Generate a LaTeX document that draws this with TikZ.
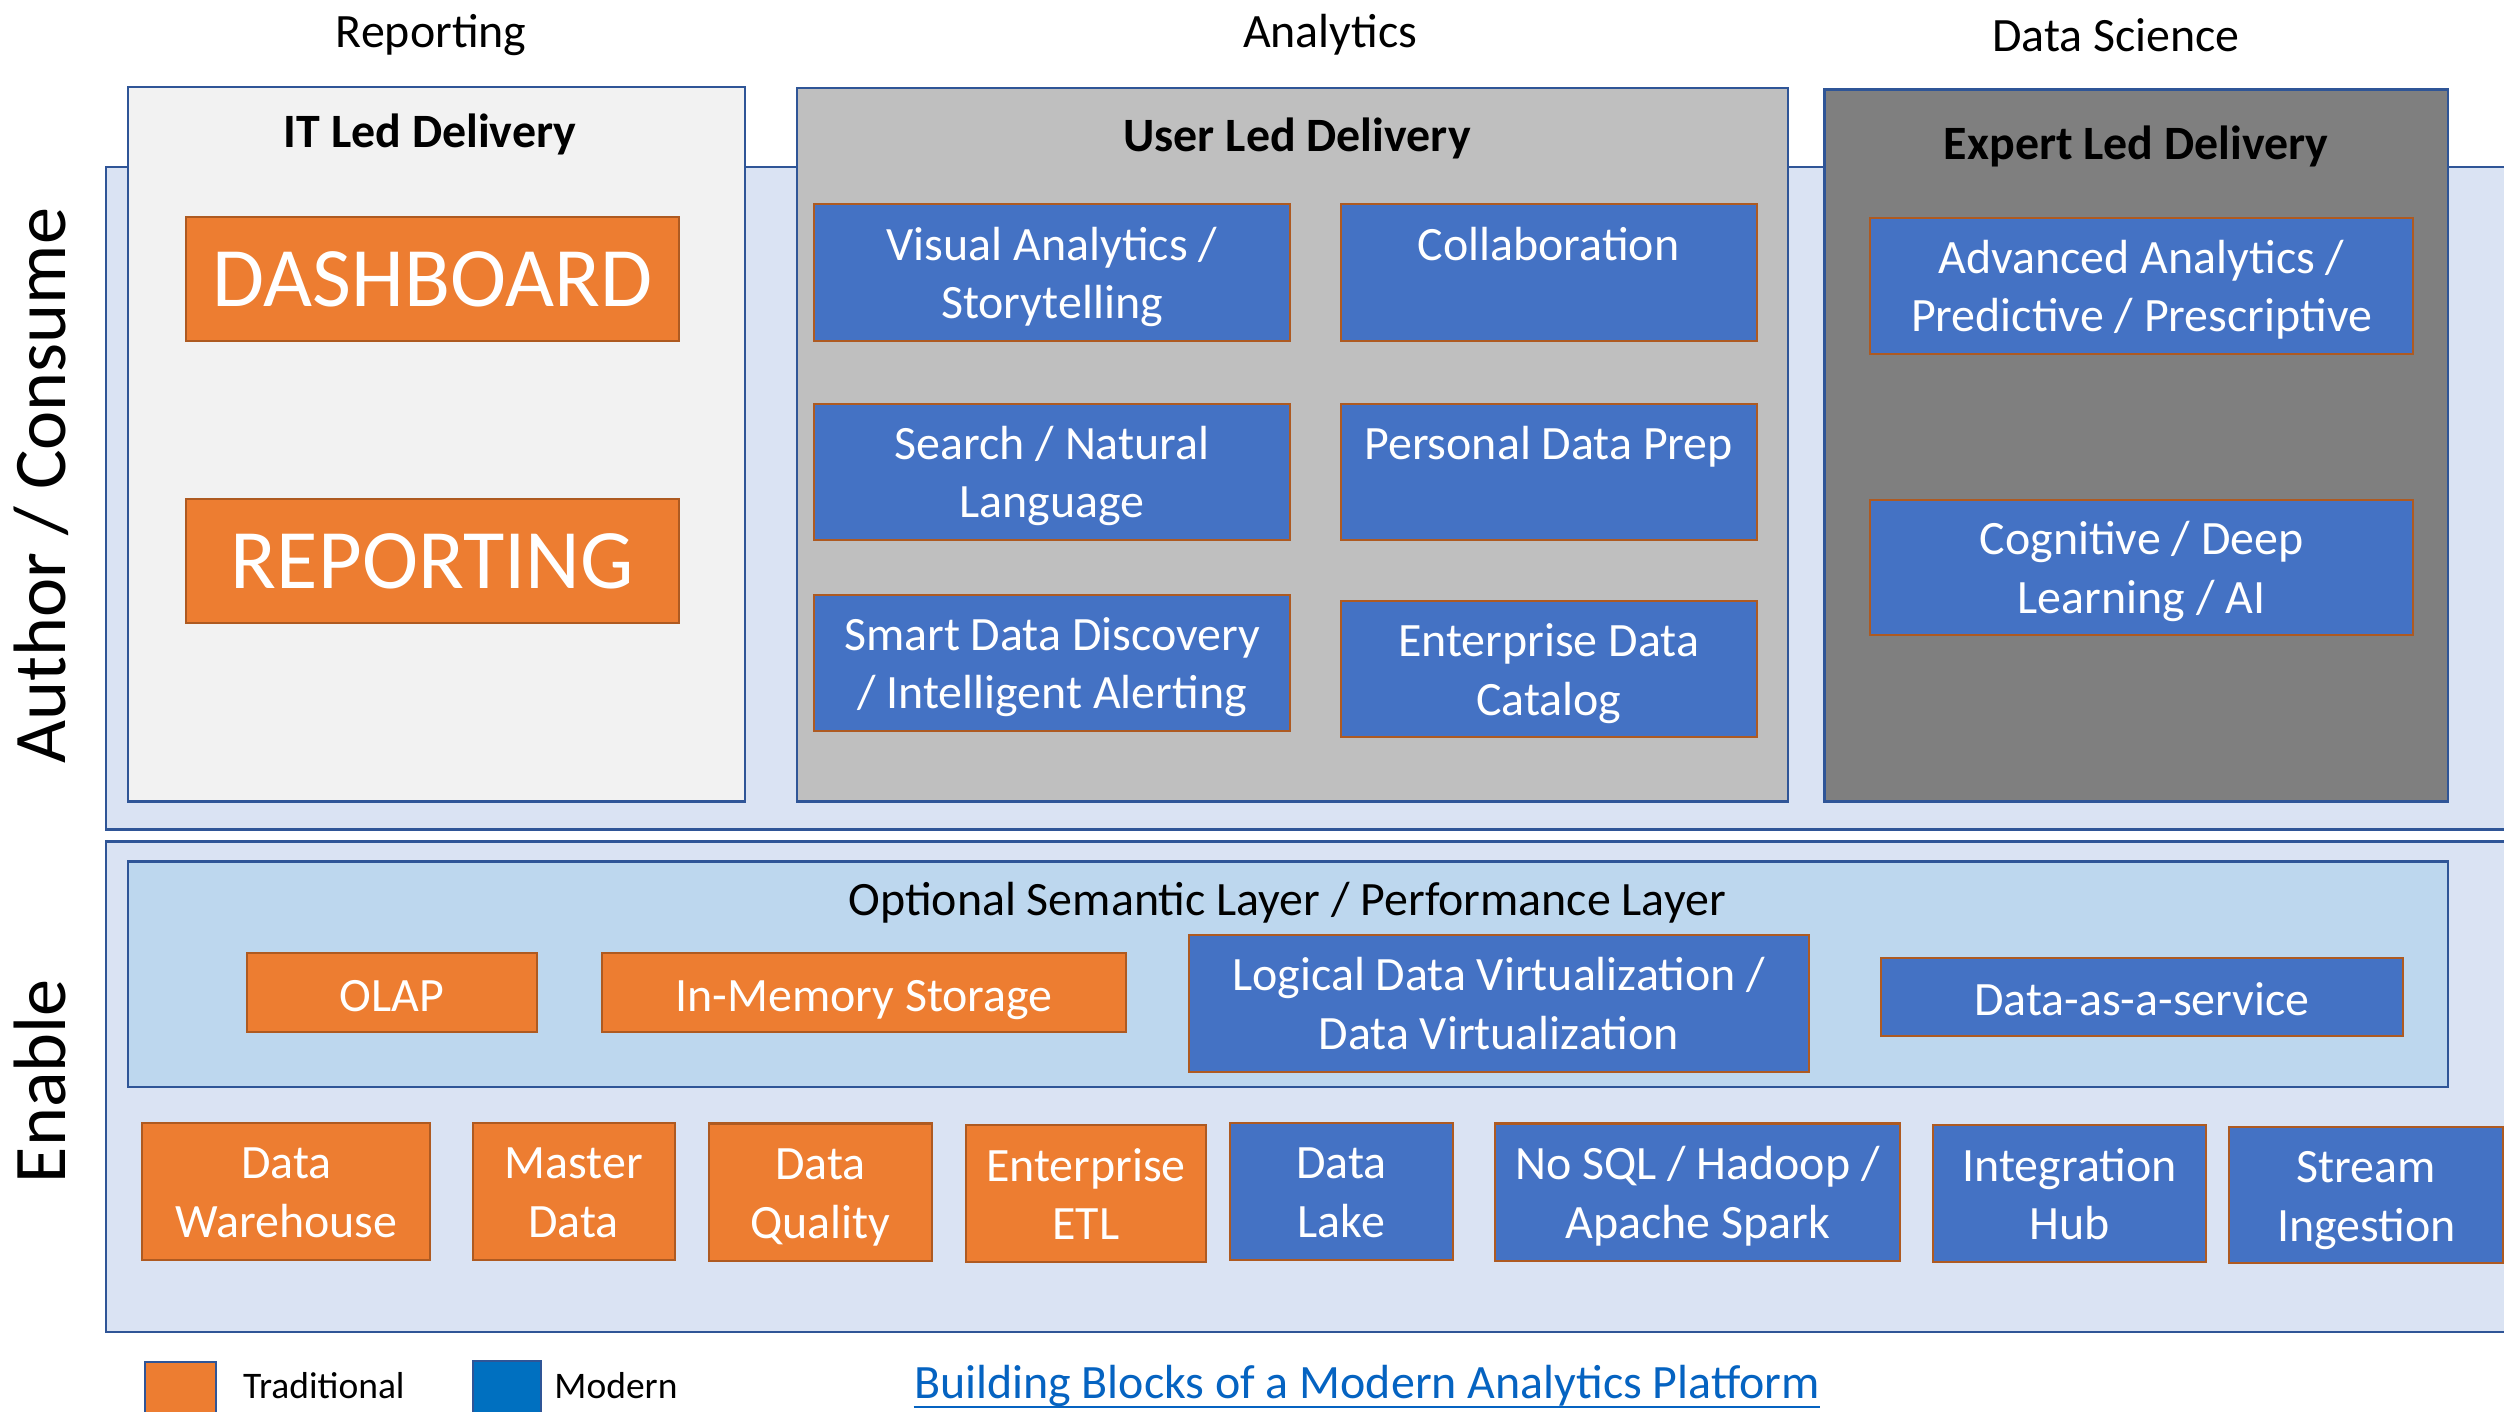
\documentclass[tikz,border=0pt]{standalone}
\usepackage{fontspec}
\setmainfont{Carlito}
\usepackage{tikz}
\usetikzlibrary{positioning}
\definecolor{bandfill}{HTML}{DAE3F3}
\definecolor{semfill}{HTML}{BDD7EE}
\definecolor{frame}{HTML}{2F5597}
\definecolor{itfill}{HTML}{F2F2F2}
\definecolor{userfill}{HTML}{BFBFBF}
\definecolor{expertfill}{HTML}{7F7F7F}
\definecolor{trad}{HTML}{ED7D31}
\definecolor{tileedge}{HTML}{AE5A21}
\definecolor{modern}{HTML}{4472C4}
\definecolor{legblue}{HTML}{0070C0}
\definecolor{linkblue}{HTML}{0563C1}

\begin{document}
\begin{tikzpicture}[x=1pt, y=-1pt]
  \tikzstyle{band} = [draw=frame, line width=1.5pt, fill=bandfill, rectangle, inner sep=0pt]
  \tikzstyle{lane} = [draw=frame, line width=1.5pt, rectangle, inner sep=0pt]
  \tikzstyle{tile} = [rectangle, inner sep=0pt, line width=1.3pt, draw=tileedge, align=center, text=white, font=\fontsize{30}{36.5}\selectfont]
  \tikzstyle{old} = [tile, fill=trad]
  \tikzstyle{new} = [tile, fill=modern]
  \tikzstyle{big} = [old, font=\fontsize{53}{60}\selectfont]
  \tikzstyle{twoline} = [text height=59.5pt, text depth=2pt]
  \tikzstyle{topline} = [text height=23pt, text depth=38.5pt]
  \tikzstyle{oneline} = [text height=23pt, text depth=0pt]
  \tikzstyle{caption} = [inner sep=0pt, anchor=base, font=\fontsize{30}{36.5}\selectfont]
  \tikzstyle{laneTitle} = [inner sep=0pt, text height=21pt, text depth=6pt, font=\fontsize{30}{36.5}\selectfont\bfseries]
  \tikzstyle{side} = [inner sep=0pt, anchor=base, rotate=90, font=\fontsize{46.5}{54}\selectfont]
  \tikzstyle{legend} = [inner sep=0pt, anchor=base west, font=\fontsize{23.5}{28}\selectfont]
  \tikzstyle{legbox} = [rectangle, inner sep=0pt, draw=frame, line width=1.2pt]

  \useasboundingbox (0,0) rectangle (1568,884);
  \clip (0,0) rectangle (1568,884);

  \node[band, name=author, minimum width=1523pt, minimum height=415pt] at (828,312) {};
  \node[band, name=enable, minimum width=1523pt, minimum height=307pt] at (828,680.5) {};

  \node[lane, name=itlane, fill=itfill, minimum width=386.5pt, minimum height=447.5pt] at (273.25,278.25) {};
  \node[lane, name=userlane, fill=userfill, minimum width=620.5pt, minimum height=447pt] at (809.25,278.5) {};
  \node[lane, name=expertlane, fill=expertfill, minimum width=390.5pt, minimum height=446pt] at (1337.75,279) {};

  \node[laneTitle, name=ittitle, below=17.5pt of itlane.north, xshift=-4pt] {IT Led Delivery};
  \node[laneTitle, name=usertitle, below=19.5pt of userlane.north, xshift=3pt] {User Led Delivery};
  \node[laneTitle, name=experttitle, below=23.5pt of expertlane.north] {Expert Led Delivery};

  \node[caption, name=hreport] at (270,30) {Reporting};
  \node[caption, name=hanalytics] at (833,30) {Analytics};
  \node[caption, name=hscience] at (1325,32.5) {Data Science};

  \node[side, name=authorlabel] at (41,304) {Author / Consume};
  \node[side, name=enablelabel] at (41,677) {Enable};

  \node[big, name=dashboard, minimum width=309pt, minimum height=77.5pt] at (270.75,174.75) {DASHBOARD};
  \node[big, name=reporting, minimum width=309pt, minimum height=77.5pt] at (270.75,351.25) {REPORTING};

  \node[new, twoline, name=visual, minimum width=297.5pt, minimum height=85.5pt] at (658.75,170.75) {Visual Analytics /\\Storytelling};
  \node[new, topline, name=collab, minimum width=260.5pt, minimum height=85.5pt] at (969.75,170.75) {Collaboration};
  \node[new, twoline, name=search, minimum width=297.5pt, minimum height=85pt] at (658.75,295.5) {Search / Natural\\Language};
  \node[new, topline, name=dataprep, minimum width=260.5pt, minimum height=85pt] at (969.75,295.5) {Personal Data Prep};
  \node[new, twoline, name=discovery, minimum width=297.5pt, minimum height=85pt] at (658.75,415) {Smart Data Discovery\\/ Intelligent Alerting};
  \node[new, twoline, name=catalog, minimum width=260.5pt, minimum height=85pt] at (969.75,419) {Enterprise Data\\Catalog};

  \node[new, twoline, name=advanced, minimum width=340pt, minimum height=85pt] at (1341,179) {Advanced Analytics /\\Predictive / Prescriptive};
  \node[new, twoline, name=cognitive, minimum width=340pt, minimum height=84.5pt] at (1341,355.25) {Cognitive / Deep\\Learning / AI};

  \node[lane, name=semantic, fill=semfill, minimum width=1453pt, minimum height=141pt] at (806.5,610) {};
  \node[caption, name=semtitle] at (806,573) {Optional Semantic Layer / Performance Layer};

  \node[old, oneline, name=olap, minimum width=182pt, minimum height=49.5pt] at (245.5,621.75) {OLAP};
  \node[old, oneline, name=inmemory, minimum width=328pt, minimum height=49.5pt] at (541,621.75) {In-Memory Storage};
  \node[new, twoline, name=logical, minimum width=388pt, minimum height=85.5pt] at (938.5,628.25) {Logical Data Virtualization /\\Data Virtualization};
  \node[new, oneline, name=daas, minimum width=326.5pt, minimum height=49pt] at (1341.25,624.5) {Data-as-a-service};

  \node[old, twoline, name=warehouse, minimum width=180.5pt, minimum height=86pt] at (179.25,746) {Data\\Warehouse};
  \node[old, twoline, name=master, minimum width=126.5pt, minimum height=86pt] at (359.25,746) {Master\\Data};
  \node[old, twoline, name=quality, minimum width=139.5pt, minimum height=86pt] at (513.75,746.5) {Data\\Quality};
  \node[old, twoline, name=etl, minimum width=150pt, minimum height=86pt] at (680,747.5) {Enterprise\\ETL};
  \node[new, twoline, name=lake, minimum width=140pt, minimum height=86pt] at (840,746) {Data\\Lake};
  \node[new, twoline, name=nosql, minimum width=254pt, minimum height=86pt] at (1063,746.5) {No SQL / Hadoop /\\Apache Spark};
  \node[new, twoline, name=hub, minimum width=171pt, minimum height=86pt] at (1296,747.5) {Integration\\Hub};
  \node[new, twoline, name=stream, minimum width=171.5pt, minimum height=85pt] at (1481.75,748.5) {Stream\\Ingestion};

  \node[legbox, name=legold, fill=trad, minimum width=44pt, minimum height=40pt] at (113,873) {};
  \node[legbox, name=legnew, fill=legblue, minimum width=43pt, minimum height=40pt] at (317.5,872) {};
  \node[legend, name=legoldtext] at (152,876) {Traditional};
  \node[legend, name=legnewtext] at (347,876) {Modern};
  \node[caption, name=title, text=linkblue] at (856,876) {Building Blocks of a Modern Analytics Platform};
  \draw[linkblue, line width=1.3pt] ([yshift=-5pt]title.base west) -- ([yshift=-5pt]title.base east);
\end{tikzpicture}
\end{document}
